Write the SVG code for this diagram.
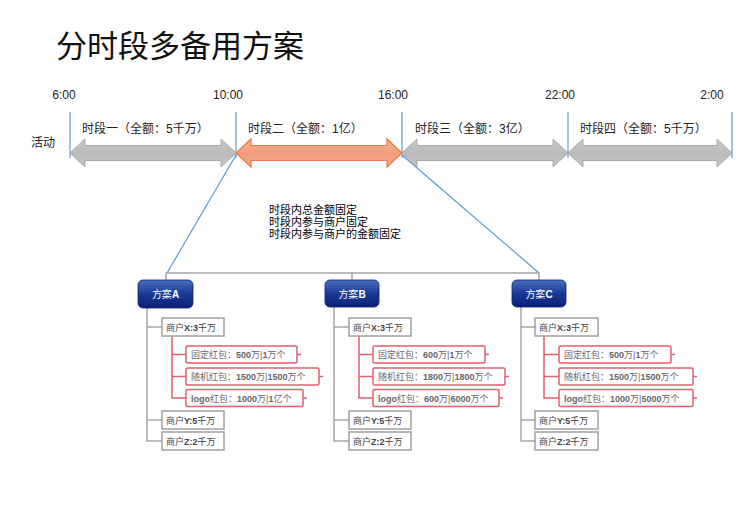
<svg xmlns="http://www.w3.org/2000/svg" width="750" height="527" viewBox="0 0 750 527">
<defs>
<linearGradient id="blueG" x1="0" y1="0" x2="0" y2="1">
<stop offset="0" stop-color="#4a6fc0"/>
<stop offset="0.5" stop-color="#1a3a96"/>
<stop offset="1" stop-color="#0a1f78"/>
</linearGradient>
<linearGradient id="grayG" x1="0" y1="0" x2="0" y2="1">
<stop offset="0" stop-color="#c9c9c9"/>
<stop offset="0.5" stop-color="#bcbcbc"/>
<stop offset="1" stop-color="#c4c4c4"/>
</linearGradient>
<linearGradient id="orgG" x1="0" y1="0" x2="0" y2="1">
<stop offset="0" stop-color="#f6b598"/>
<stop offset="0.5" stop-color="#f29d7a"/>
<stop offset="1" stop-color="#f5ad8e"/>
</linearGradient>
<style>
text{font-family:"Liberation Sans","Noto Sans CJK SC",sans-serif;}
.title{font-size:31px;fill:#111;}
.time{font-size:12px;fill:#222;text-anchor:middle;}
.seg{font-size:12px;fill:#222;}
.note{font-size:11px;fill:#000;}
.plan rect{fill:url(#blueG);stroke:#0a1f70;stroke-width:0.8;}
.plan text{font-size:10px;fill:#fff;text-anchor:middle;}
.m rect{fill:#fff;stroke:#a0a0a0;stroke-width:1.5;}
.m text{font-size:9px;fill:#444;}
.r rect{fill:#fff;stroke:#e0606e;stroke-width:1.5;}
.r text{font-size:9px;fill:#666;}
.b{font-weight:bold;}
.vl{stroke:#5b9bd5;stroke-width:1.2;fill:none;}
.gl{stroke:#a6a6a6;stroke-width:1.5;fill:none;}
.rl{stroke:#e0606e;stroke-width:1.5;fill:none;}
.ga{fill:url(#grayG);stroke:#a8a8a8;stroke-width:1;}
.oa{fill:url(#orgG);stroke:#ec7844;stroke-width:1.2;}
</style>
</defs>
<rect width="750" height="527" fill="#fff"/>
<text class="title" x="56" y="57">分时段多备用方案</text>

<g id="timeline">
<text class="time" x="64" y="99">6:00</text>
<text class="time" x="228" y="99">10:00</text>
<text class="time" x="393" y="99">16:00</text>
<text class="time" x="560" y="99">22:00</text>
<text class="time" x="712" y="99">2:00</text>
<text class="seg" x="31" y="147">活动</text>
</g>

<g id="connectors">
<line class="vl" x1="70" y1="112" x2="70" y2="158"/>
<line class="vl" x1="236" y1="112" x2="236" y2="158"/>
<line class="vl" x1="402" y1="112" x2="402" y2="158"/>
<line class="vl" x1="568" y1="112" x2="568" y2="158"/>
<line class="vl" x1="732" y1="112" x2="732" y2="158"/>
<line class="vl" x1="236" y1="155" x2="167" y2="273"/>
<line class="vl" x1="402" y1="155" x2="539" y2="273"/>
<polyline class="gl" points="166,280 166,273 539,273 539,280"/>
<line class="gl" x1="352" y1="273" x2="352" y2="280"/>
<!-- plan A -->
<polyline class="gl" points="147,308 147,441 162,441"/>
<line class="gl" x1="147" y1="327" x2="162" y2="327"/>
<line class="gl" x1="147" y1="420" x2="162" y2="420"/>
<polyline class="rl" points="172,336 172,398 186,398"/>
<line class="rl" x1="172" y1="354.5" x2="186" y2="354.5"/>
<line class="rl" x1="172" y1="376.5" x2="186" y2="376.5"/>
<line class="rl" x1="297" y1="354.5" x2="301" y2="354.5"/>
<line class="rl" x1="319" y1="376.5" x2="323" y2="376.5"/>
<line class="rl" x1="303" y1="398" x2="307" y2="398"/>
<!-- plan B -->
<polyline class="gl" points="334,307 334,441 349,441"/>
<line class="gl" x1="334" y1="327" x2="349" y2="327"/>
<line class="gl" x1="334" y1="420" x2="349" y2="420"/>
<polyline class="rl" points="359,336 359,398 373,398"/>
<line class="rl" x1="359" y1="354.5" x2="373" y2="354.5"/>
<line class="rl" x1="359" y1="376.5" x2="373" y2="376.5"/>
<line class="rl" x1="485" y1="354.5" x2="489" y2="354.5"/>
<line class="rl" x1="505" y1="376.5" x2="509" y2="376.5"/>
<line class="rl" x1="499" y1="398" x2="503" y2="398"/>
<!-- plan C -->
<polyline class="gl" points="521,307 521,441 535,441"/>
<line class="gl" x1="521" y1="327" x2="535" y2="327"/>
<line class="gl" x1="521" y1="420" x2="535" y2="420"/>
<polyline class="rl" points="544,336 544,398 559,398"/>
<line class="rl" x1="544" y1="354.5" x2="559" y2="354.5"/>
<line class="rl" x1="544" y1="376.5" x2="559" y2="376.5"/>
<line class="rl" x1="671" y1="354.5" x2="675" y2="354.5"/>
<line class="rl" x1="693" y1="376.5" x2="697" y2="376.5"/>
<line class="rl" x1="693" y1="398" x2="697" y2="398"/>
</g>

<g id="seg1">
<path class="ga" d="M70,153 L85,139 L85,145.5 L221,145.5 L221,139 L236,153 L221,167 L221,160.5 L85,160.5 L85,167 Z"/>
<text class="seg" x="82" y="133">时段一（全额：5千万）</text>
</g>
<g id="seg2">
<path class="oa" d="M236,153 L251,139 L251,145.5 L387,145.5 L387,139 L402,153 L387,167 L387,160.5 L251,160.5 L251,167 Z"/>
<text class="seg" x="248" y="133">时段二（全额：1亿）</text>
</g>
<g id="seg3">
<path class="ga" d="M402,153 L417,139 L417,145.5 L553,145.5 L553,139 L568,153 L553,167 L553,160.5 L417,160.5 L417,167 Z"/>
<text class="seg" x="415" y="133">时段三（全额：3亿）</text>
</g>
<g id="seg4">
<path class="ga" d="M568,153 L583,139 L583,145.5 L717,145.5 L717,139 L732,153 L717,167 L717,160.5 L583,160.5 L583,167 Z"/>
<text class="seg" x="580" y="133">时段四（全额：5千万）</text>
</g>

<g id="note">
<text class="note" x="269" y="214">时段内总金额固定</text>
<text class="note" x="269" y="226">时段内参与商户固定</text>
<text class="note" x="269" y="238">时段内参与商户的金额固定</text>
</g>

<!-- Plan A -->
<g id="planA" class="plan"><rect x="138" y="280" width="55" height="28" rx="5"/><text x="165.5" y="298">方案<tspan class="b">A</tspan></text></g>
<g id="A-X" class="m"><rect x="162" y="318" width="62" height="18"/><text x="166" y="330.5">商户<tspan class="b">X:3</tspan>千万</text></g>
<g id="A-X1" class="r"><rect x="186" y="346" width="111" height="17" rx="1.5"/><text x="191" y="358">固定红包：<tspan class="b">500</tspan>万|<tspan class="b">1</tspan>万个</text></g>
<g id="A-X2" class="r"><rect x="186" y="368" width="133" height="17" rx="1.5"/><text x="191" y="380">随机红包：<tspan class="b">1500</tspan>万|<tspan class="b">1500</tspan>万个</text></g>
<g id="A-X3" class="r"><rect x="186" y="389.5" width="117" height="17" rx="1.5"/><text x="191" y="401.5"><tspan class="b">logo</tspan>红包：<tspan class="b">1000</tspan>万|<tspan class="b">1</tspan>亿个</text></g>
<g id="A-Y" class="m"><rect x="162" y="411" width="62" height="18"/><text x="166" y="423.5">商户<tspan class="b">Y:5</tspan>千万</text></g>
<g id="A-Z" class="m"><rect x="162" y="432" width="62" height="18"/><text x="166" y="444.5">商户<tspan class="b">Z:2</tspan>千万</text></g>

<!-- Plan B -->
<g id="planB" class="plan"><rect x="325" y="280" width="54" height="27" rx="5"/><text x="352" y="297.5">方案<tspan class="b">B</tspan></text></g>
<g id="B-X" class="m"><rect x="349" y="318" width="62" height="18"/><text x="353" y="330.5">商户<tspan class="b">X:3</tspan>千万</text></g>
<g id="B-X1" class="r"><rect x="373" y="346" width="112" height="17" rx="1.5"/><text x="378" y="358">固定红包：<tspan class="b">600</tspan>万|<tspan class="b">1</tspan>万个</text></g>
<g id="B-X2" class="r"><rect x="373" y="368" width="132" height="17" rx="1.5"/><text x="378" y="380">随机红包：<tspan class="b">1800</tspan>万|<tspan class="b">1800</tspan>万个</text></g>
<g id="B-X3" class="r"><rect x="373" y="389.5" width="126" height="17" rx="1.5"/><text x="378" y="401.5"><tspan class="b">logo</tspan>红包：<tspan class="b">600</tspan>万|<tspan class="b">6000</tspan>万个</text></g>
<g id="B-Y" class="m"><rect x="349" y="411" width="62" height="18"/><text x="353" y="423.5">商户<tspan class="b">Y:5</tspan>千万</text></g>
<g id="B-Z" class="m"><rect x="349" y="432" width="62" height="18"/><text x="353" y="444.5">商户<tspan class="b">Z:2</tspan>千万</text></g>

<!-- Plan C -->
<g id="planC" class="plan"><rect x="512" y="280" width="54" height="27" rx="5"/><text x="539" y="297.5">方案<tspan class="b">C</tspan></text></g>
<g id="C-X" class="m"><rect x="535" y="318" width="63" height="18"/><text x="539" y="330.5">商户<tspan class="b">X:3</tspan>千万</text></g>
<g id="C-X1" class="r"><rect x="559" y="346" width="112" height="17" rx="1.5"/><text x="564" y="358">固定红包：<tspan class="b">500</tspan>万|<tspan class="b">1</tspan>万个</text></g>
<g id="C-X2" class="r"><rect x="559" y="368" width="134" height="17" rx="1.5"/><text x="564" y="380">随机红包：<tspan class="b">1500</tspan>万|<tspan class="b">1500</tspan>万个</text></g>
<g id="C-X3" class="r"><rect x="559" y="389.5" width="134" height="17" rx="1.5"/><text x="564" y="401.5"><tspan class="b">logo</tspan>红包：<tspan class="b">1000</tspan>万|<tspan class="b">5000</tspan>万个</text></g>
<g id="C-Y" class="m"><rect x="535" y="411" width="63" height="18"/><text x="539" y="423.5">商户<tspan class="b">Y:5</tspan>千万</text></g>
<g id="C-Z" class="m"><rect x="535" y="432" width="63" height="18"/><text x="539" y="444.5">商户<tspan class="b">Z:2</tspan>千万</text></g>
</svg>
